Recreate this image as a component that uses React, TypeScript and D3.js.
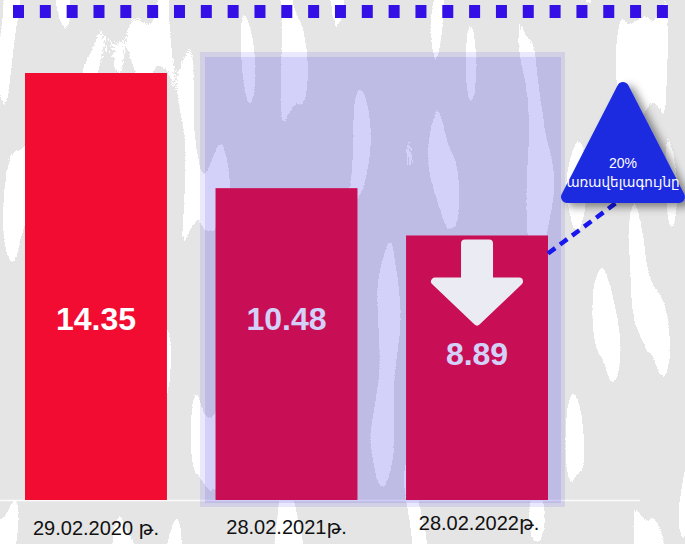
import React from 'react';
import * as d3 from 'd3';

const dates = ['29.02.2020 թ.', '28.02.2021թ.', '28.02.2022թ.'];
const values = [14.35, 10.48, 8.89];
const badgeLines = ['20%', 'առավելագույնը'];

const W = 685;
const H = 544;

const App: React.FC = () => {
  const x = d3.scaleBand<string>()
    .domain(dates)
    .range([25, 548])
    .paddingInner(0.255)
    .paddingOuter(0);

  const y = d3.scaleLinear()
    .domain([0, d3.max(values) as number])
    .range([500, 73]);

  const bw = x.bandwidth();
  const last = dates.length - 1;
  const lastX = (x(dates[last]) || 0);
  const lastCx = lastX + bw / 2;
  const lastTop = y(values[last]);

  // arrow inside the last bar
  const ax = lastCx;
  const aTop = lastTop + 8;
  const arrow = [
    [ax - 12, aTop], [ax + 12, aTop], [ax + 12, aTop + 38],
    [ax + 42, aTop + 38], [ax, aTop + 78], [ax - 42, aTop + 38],
    [ax - 12, aTop + 38],
  ];

  // badge triangle
  const tri = [[623, 88], [679, 197], [567, 197]];

  const labelFont = '"Liberation Sans", "DejaVu Sans", sans-serif';

  return (
    <svg width={W} height={H} style={{ position: 'absolute', left: 0, top: 0 }}>
      <defs>
        <filter id="tex" x="0" y="0" width="100%" height="100%" colorInterpolationFilters="sRGB">
          <feTurbulence type="fractalNoise" baseFrequency="0.04 0.008" numOctaves={1} seed={11} result="n" />
          <feColorMatrix in="n" type="matrix"
            values="1 0 0 0 0  1 0 0 0 0  1 0 0 0 0  0 0 0 0 1" result="g" />
          <feComponentTransfer in="g">
            <feFuncR type="discrete" tableValues="0.9 0.9 0.9 1 1" />
            <feFuncG type="discrete" tableValues="0.9 0.9 0.9 1 1" />
            <feFuncB type="discrete" tableValues="0.9 0.9 0.9 1 1" />
          </feComponentTransfer>
        </filter>
        <filter id="shadow" x="-30%" y="-30%" width="160%" height="160%">
          <feDropShadow dx="6" dy="4" stdDeviation="4" floodColor="#000" floodOpacity="0.45" />
        </filter>
      </defs>

      <rect width={W} height={H} fill="#e6e6e6" filter="url(#tex)" />

      {/* top dotted rule */}
      <line x1={13} x2={672} y1={11.5} y2={11.5} stroke="#3410e6" strokeWidth={13}
        strokeDasharray="11 15.83" />

      {/* baseline */}
      <line x1={0} x2={640} y1={500.5} y2={500.5} stroke="#fff" strokeWidth={1.5} opacity={0.85} />

      {/* bars */}
      {values.map((v, i) => (
        <rect key={dates[i]} x={x(dates[i])} y={y(v)} width={bw} height={y(0) - y(v)} fill="#f20c32" />
      ))}

      {/* value labels */}
      {values.map((v, i) => (
        <text key={'v' + i}
          x={(x(dates[i]) || 0) + bw / 2}
          y={i === last ? 365 : 330}
          textAnchor="middle"
          fontFamily={labelFont}
          fontWeight="bold"
          fontSize={32}
          fill="#fff">
          {v.toFixed(2)}
        </text>
      ))}

      {/* lavender overlay over the last two years */}
      <rect x={200} y={52} width={365} height={455} fill="rgb(40,30,225)" fillOpacity={0.1} />
      <rect x={205} y={57} width={356} height={446} fill="rgb(40,30,225)" fillOpacity={0.11} />

      {/* down arrow */}
      <path d={d3.line()(arrow as [number, number][]) + 'Z'} fill="#ebebf3" stroke="#ebebf3"
        strokeWidth={8} strokeLinejoin="round" />

      {/* dashed connector */}
      <line x1={lastX + bw} y1={lastTop + 18} x2={616} y2={203} stroke="#1818ee" strokeWidth={4.5}
        strokeDasharray="9 6" />

      {/* badge */}
      <path d={d3.line()(tri as [number, number][]) + 'Z'} fill="#1a2be0" stroke="#1a2be0"
        strokeWidth={12} strokeLinejoin="round" filter="url(#shadow)" />
      {badgeLines.map((t, i) => (
        <text key={t} x={623} y={168 + i * 19} textAnchor="middle" fill="#fff"
          fontFamily={labelFont} fontSize={i === 0 ? 14 : 13.5}>
          {t}
        </text>
      ))}

      {/* category labels */}
      {dates.map((d, i) => (
        <text key={'d' + i}
          x={(x(d) || 0) + bw / 2 + (i === last ? 2 : 0)}
          y={[535, 534, 530][i]}
          textAnchor="middle"
          fontFamily={labelFont}
          fontSize={20}
          fill="#111">
          {d}
        </text>
      ))}
    </svg>
  );
};

export default App;
